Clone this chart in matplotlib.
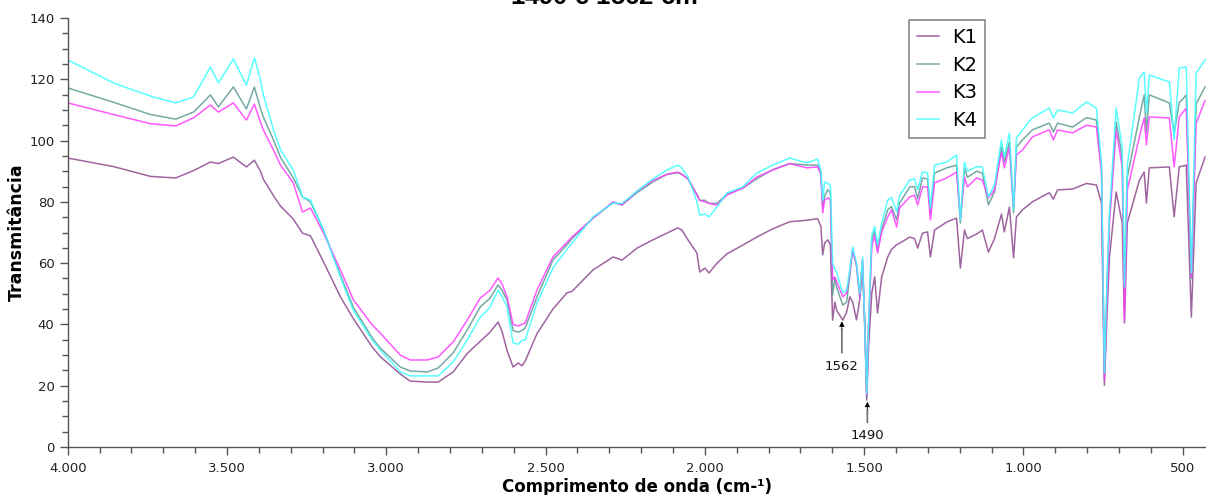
import matplotlib
matplotlib.use("Agg")
import matplotlib.pyplot as plt
from matplotlib.ticker import MultipleLocator, FuncFormatter

# ---------------- data ----------------
wavenumber = [
    4000, 3856, 3740, 3661, 3605, 3552, 3527, 3480, 3439, 3414,
    3395, 3386, 3354, 3332, 3292, 3263, 3238, 3197, 3144, 3103,
    3044, 3019, 2956, 2925, 2871, 2837, 2790, 2746, 2705, 2674,
    2649, 2636, 2621, 2602, 2586, 2574, 2564, 2527, 2477, 2433,
    2417, 2351, 2288, 2260, 2213, 2163, 2119, 2085, 2072, 2053,
    2025, 2016, 2000, 1987, 1962, 1931, 1881, 1837, 1787, 1734,
    1680, 1646, 1636, 1630, 1624, 1614, 1606, 1599, 1592, 1586,
    1567, 1555, 1545, 1536, 1524, 1514, 1505, 1497, 1492, 1486,
    1476, 1467, 1458, 1445, 1426, 1414, 1398, 1389, 1357, 1342,
    1332, 1317, 1301, 1292, 1279, 1241, 1210, 1198, 1185, 1176,
    1147, 1129, 1110, 1091, 1069, 1060, 1044, 1031, 1022, 1003,
    972, 919, 906, 893, 846, 802, 771, 755, 746, 737,
    730, 709, 690, 683, 674, 636, 621, 614, 605, 542,
    527, 511, 489, 473, 458, 430,
]

k1 = [
    94.3, 91.5, 88.3, 87.8, 90.2, 93.0, 92.5, 94.6, 91.4, 93.6,
    90.0, 87.4, 82.0, 78.6, 74.4, 69.8, 68.9, 60.4, 49.0, 41.8,
    32.6, 29.5, 23.8, 21.5, 21.2, 21.2, 24.5, 30.5, 34.5, 37.5,
    40.8, 37.5, 31.5, 26.1, 27.4, 26.5, 28.0, 37.0, 45.0, 50.3,
    50.8, 57.8, 62.0, 61.0, 64.9, 67.6, 69.8, 71.5, 70.8, 67.6,
    63.3, 57.1, 58.4, 56.8, 60.0, 63.0, 65.9, 68.5, 71.2, 73.5,
    74.0, 74.5, 72.0, 62.7, 66.6, 67.6, 66.0, 41.4, 47.3, 44.5,
    41.4, 44.0, 49.0, 47.3, 41.5, 48.0, 58.7, 38.0, 15.3, 33.0,
    50.3, 55.5, 43.7, 55.5, 62.0, 64.5, 66.0, 66.5, 68.5, 68.0,
    64.9, 69.8, 70.2, 62.0, 70.8, 73.4, 74.7, 58.4, 70.8, 68.0,
    69.5, 70.8, 63.6, 68.0, 76.0, 70.2, 78.3, 61.7, 75.1, 77.4,
    80.0, 83.0, 80.9, 83.9, 84.2, 86.0, 85.5, 79.6, 20.2, 45.0,
    62.0, 83.2, 73.1, 40.5, 73.1, 87.1, 89.7, 79.6, 91.1, 91.4,
    75.1, 91.4, 92.0, 42.4, 86.2, 94.6,
]

k2 = [
    117.2, 112.5, 108.5, 107.0, 109.3, 114.9, 111.0, 117.5, 110.3, 117.5,
    110.5, 107.7, 100.2, 94.5, 87.8, 81.6, 80.0, 70.8, 56.1, 45.5,
    35.6, 32.3, 26.1, 24.8, 24.5, 25.8, 30.7, 38.2, 45.7, 48.6,
    52.9, 51.0, 48.0, 38.0, 37.5, 38.0, 38.8, 49.0, 61.0, 66.0,
    68.0, 74.7, 79.8, 79.0, 83.0, 86.5, 89.0, 89.5, 89.0, 87.5,
    82.5, 80.5, 80.5, 79.5, 79.5, 82.5, 84.5, 87.5, 90.5, 92.5,
    92.0, 92.0, 90.0, 78.0, 82.0, 84.0, 83.0, 49.6, 55.0, 52.0,
    46.3, 47.3, 56.0, 64.3, 59.0, 49.0, 61.0, 35.0, 16.5, 40.0,
    67.6, 70.5, 64.0, 71.0, 77.4, 78.5, 74.1, 79.5, 84.9, 85.0,
    81.0, 87.8, 87.5, 76.0, 89.4, 91.1, 92.0, 73.1, 91.1, 88.0,
    90.0, 89.4, 79.0, 83.2, 97.9, 93.0, 99.5, 76.4, 97.9, 100.2,
    103.5, 105.7, 102.8, 105.7, 104.4, 107.5, 106.7, 91.4, 22.8, 55.0,
    75.1, 106.1, 94.6, 50.3, 88.1, 107.7, 114.9, 102.5, 114.9, 112.3,
    102.5, 112.3, 114.9, 55.0, 112.0, 117.5,
]

k3 = [
    112.3, 108.5, 105.5, 104.8, 107.4, 111.6, 109.3, 112.3, 106.7, 111.9,
    106.0, 103.5, 96.9, 92.0, 86.2, 76.7, 78.0, 69.8, 57.8, 48.0,
    39.8, 37.2, 30.0, 28.4, 28.4, 29.4, 34.3, 41.4, 48.6, 51.2,
    55.2, 53.0, 49.0, 40.0, 39.5, 40.0, 40.5, 51.2, 62.0, 66.8,
    68.5, 74.7, 80.0, 79.0, 83.5, 87.0, 89.0, 89.7, 89.0, 87.5,
    82.2, 80.5, 80.0, 79.5, 79.0, 82.2, 84.5, 88.1, 90.4, 92.5,
    91.1, 91.4, 89.0, 76.4, 80.6, 81.3, 80.6, 54.5, 55.5, 53.9,
    49.0, 50.3, 57.0, 64.3, 59.4, 49.0, 61.0, 36.0, 17.0, 40.0,
    65.3, 69.2, 63.3, 70.2, 75.1, 77.4, 71.8, 78.0, 81.6, 82.2,
    79.0, 84.9, 84.9, 74.1, 86.2, 87.8, 89.7, 74.7, 88.1, 84.9,
    87.8, 87.1, 81.3, 83.9, 96.3, 91.1, 97.9, 78.3, 95.3, 96.9,
    101.2, 103.5, 100.2, 103.5, 102.5, 105.0, 104.4, 89.4, 21.9, 50.0,
    73.1, 103.5, 91.4, 41.4, 83.9, 101.2, 107.4, 98.6, 107.7, 107.4,
    91.4, 107.7, 110.6, 55.5, 105.7, 113.0,
]

k4 = [
    126.3, 118.8, 114.5, 112.3, 114.2, 124.0, 118.8, 126.6, 118.1, 127.0,
    119.8, 115.0, 103.5, 97.0, 90.4, 81.6, 80.6, 70.8, 55.5, 44.5,
    34.9, 31.7, 24.5, 23.2, 23.2, 23.2, 27.7, 34.9, 42.4, 45.7,
    51.2, 49.0, 45.7, 34.0, 33.5, 34.9, 34.9, 47.0, 58.4, 64.5,
    66.5, 75.1, 79.6, 79.5, 83.5, 87.5, 90.4, 92.0, 91.0, 88.1,
    80.0, 75.7, 76.0, 75.1, 78.3, 82.9, 84.9, 89.4, 92.0, 94.3,
    92.7, 94.0, 90.4, 80.6, 86.5, 86.0, 85.5, 60.0, 58.0, 56.8,
    50.3, 51.2, 58.0, 65.3, 60.0, 50.0, 62.0, 36.0, 17.5, 41.0,
    69.2, 72.0, 66.0, 73.0, 80.6, 81.5, 76.7, 82.0, 87.1, 87.5,
    84.0, 89.7, 89.5, 78.0, 92.0, 93.0, 95.3, 74.1, 93.0, 90.0,
    91.5, 91.4, 81.6, 85.5, 100.2, 94.6, 102.5, 77.4, 100.8, 103.5,
    107.4, 110.6, 107.4, 110.0, 109.0, 112.6, 110.6, 92.7, 24.2, 57.0,
    76.4, 110.6, 97.9, 52.2, 92.0, 120.5, 122.4, 109.0, 121.4, 119.1,
    100.2, 123.7, 124.0, 56.8, 122.0, 126.3,
]

series_labels = ["K1", "K2", "K3", "K4"]
series_values = [k1, k2, k3, k4]
series_colors = ["#8E4A8E", "#5E9A94", "#FF3CFF", "#3CFFFF"]

peak_positions = [1570, 1490]
peak_labels = ["1562", "1490"]
peak_tips = [41.0, 14.8]
peak_text_y = [26.4, 3.6]

# ---------------- figure ----------------
W, H = 1206, 495
fig = plt.figure(figsize=(W / 100, H / 100), dpi=100)
ax = fig.add_axes([67.7 / W, (495 - 447) / H, (W - 67.7) / W, (447 - 18) / H])

for lab, vals, col in zip(series_labels, series_values, series_colors):
    ax.plot(wavenumber, vals, color=col, lw=1.1, alpha=0.85, label=lab)

ax.set_xlim(4000, 427)
ax.set_ylim(0, 140)

ax.xaxis.set_major_locator(MultipleLocator(500))
ax.xaxis.set_minor_locator(MultipleLocator(100))
ax.yaxis.set_major_locator(MultipleLocator(20))
ax.yaxis.set_minor_locator(MultipleLocator(5))
ax.xaxis.set_major_formatter(FuncFormatter(lambda v, p: f"{int(round(v)):,}".replace(",", ".")))
ax.yaxis.set_major_formatter(FuncFormatter(lambda v, p: f"{int(round(v))}"))

for s in ["top", "right"]:
    ax.spines[s].set_visible(False)
for s in ["left", "bottom"]:
    ax.spines[s].set_color("#555555")
    ax.spines[s].set_linewidth(1.0)

ax.tick_params(axis="both", which="major", direction="out", length=6, width=1,
               color="#555555", labelsize=9.5, labelcolor="#222222")
ax.tick_params(axis="both", which="minor", direction="out", length=4, width=1,
               color="#555555")
ax.tick_params(axis="x", which="major", pad=5)

ax.set_xlabel("Comprimento de onda (cm-¹)", fontsize=12, fontweight="bold", labelpad=2)
ax.set_ylabel("Transmitância", fontsize=12.5, fontweight="bold", labelpad=2)

leg = ax.legend(loc="upper left", bbox_to_anchor=(0.7395, 0.995), borderaxespad=0,
                fontsize=14, handlelength=1.1, handletextpad=0.7, labelspacing=0.45,
                fancybox=False, framealpha=1, edgecolor="#888888", borderpad=0.4)
leg.get_frame().set_linewidth(1.2)

for px, lab, tip, ty in zip(peak_positions, peak_labels, peak_tips, peak_text_y):
    ax.annotate(lab, xy=(px, tip - 2.5), xytext=(px, ty), ha="center", va="center",
                fontsize=9.5, color="#111111",
                arrowprops=dict(arrowstyle="-", color="#777777", lw=1.3, shrinkA=3, shrinkB=0))
    ax.annotate("", xy=(px, tip), xytext=(px, tip - 2.6),
                arrowprops=dict(arrowstyle="-|>", color="black", lw=0.5,
                                mutation_scale=8, shrinkA=0, shrinkB=0))

fig.text(510 / W, 1 - 5 / H, "1490 e 1562 cm$^{-1}$", family="Liberation Sans",
         fontsize=18.5, fontweight="bold", ha="left", va="baseline")

fig.savefig("out.png", dpi=100)
